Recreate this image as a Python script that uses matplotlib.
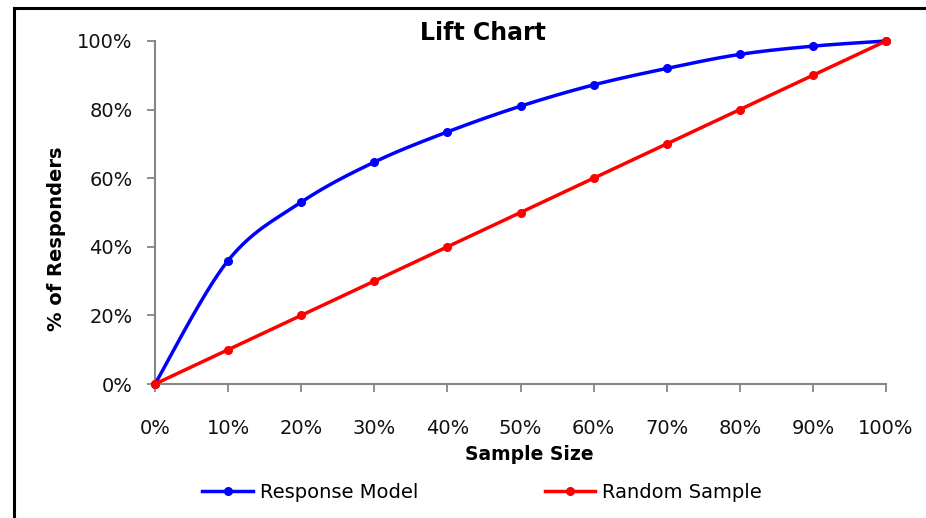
import numpy as np
import matplotlib
matplotlib.use("Agg")
import matplotlib.pyplot as plt
from matplotlib.lines import Line2D
from matplotlib.ticker import FuncFormatter

# Data
sample_pct = [0, 10, 20, 30, 40, 50, 60, 70, 80, 90, 100]
response_model = [0, 36, 53, 64.7, 73.5, 81, 87.2, 92, 96.1, 98.5, 100]
random_sample = [0, 10, 20, 30, 40, 50, 60, 70, 80, 90, 100]
y_ticks = [0, 20, 40, 60, 80, 100]

plt.rcParams['font.family'] = ['DejaVu Sans']

W, H = 926, 518


def smooth(xs, ys, n=30):
    """Catmull-Rom style smoothing through the points (like a spreadsheet smoothed line)."""
    xs = np.asarray(xs, float)
    ys = np.asarray(ys, float)
    px = np.concatenate([[xs[0]], xs, [xs[-1]]])
    py = np.concatenate([[ys[0]], ys, [ys[-1]]])
    outx, outy = [], []
    for i in range(1, len(px) - 2):
        p0, p1, p2, p3 = (np.array([px[j], py[j]]) for j in (i - 1, i, i + 1, i + 2))
        c1 = p1 + (p2 - p0) / 6.0
        c2 = p2 - (p3 - p1) / 6.0
        t = np.linspace(0, 1, n)[:, None]
        b = ((1 - t) ** 3) * p1 + 3 * ((1 - t) ** 2) * t * c1 + 3 * (1 - t) * t ** 2 * c2 + t ** 3 * p2
        outx.extend(b[:, 0])
        outy.extend(b[:, 1])
    return np.array(outx), np.array(outy)


fig = plt.figure(figsize=(W / 100, H / 100), dpi=100)
ax = fig.add_axes([155 / W, 1 - 384 / H, (886 - 155) / W, (384 - 41) / H])

blue = "#0000FF"
red = "#FF0000"

bx, by = smooth(sample_pct, response_model)
ax.plot(bx, by, color=blue, lw=2.5, solid_capstyle='round', zorder=3)
ax.plot(sample_pct, response_model, 'o', color=blue, ms=5.5, zorder=4)

rx, ry = smooth(sample_pct, random_sample)
ax.plot(rx, ry, color=red, lw=2.5, solid_capstyle='round', zorder=5)
ax.plot(sample_pct, random_sample, 'o', color=red, ms=5.5, zorder=6)

ax.set_xlim(0, 100)
ax.set_ylim(0, 100)
ax.set_xticks(sample_pct)
ax.set_yticks(y_ticks)
pct = FuncFormatter(lambda v, p: f"{v:.0f}%")
ax.xaxis.set_major_formatter(pct)
ax.yaxis.set_major_formatter(pct)

for s in ('top', 'right'):
    ax.spines[s].set_visible(False)
for s in ('left', 'bottom'):
    ax.spines[s].set_color('#868686')
    ax.spines[s].set_linewidth(1.5)
    ax.spines[s].set_zorder(1)
ax.tick_params(axis='both', direction='out', length=6, width=1.3, color='#868686',
               labelsize=14, labelcolor='#111111')
ax.tick_params(axis='x', pad=19)
ax.tick_params(axis='y', pad=10)
for sp in ax.spines.values():
    sp.set_clip_on(False)
for line in ax.get_lines():
    line.set_clip_on(False)

fig.text(483 / W, 1 - 33 / H, "Lift Chart", fontsize=17, fontweight='bold',
         ha='center', va='center')
fig.text(529 / W, 1 - 455 / H, "Sample Size", fontsize=13.5, fontweight='bold',
         ha='center', va='center')
fig.text(57 / W, 1 - 239 / H, "% of Responders", fontsize=14, fontweight='bold',
         ha='center', va='center', rotation=90)

legend_handles = [
    Line2D([], [], color=blue, lw=2.5, marker='o', ms=5.5),
    Line2D([], [], color=red, lw=2.5, marker='o', ms=5.5),
]
fig.legend(legend_handles, ["Response Model", "Random Sample"], loc='center',
           bbox_to_anchor=(482 / W, 1 - 492 / H), ncol=2, frameon=False,
           fontsize=14, handlelength=2.6, handletextpad=0.35, columnspacing=6.5)

# frame edges along the top and left of the figure
fig.add_artist(Line2D([14.5 / W, 14.5 / W], [0, 1 - 8 / H], color='black', lw=2.2,
                      transform=fig.transFigure))
fig.add_artist(Line2D([14.5 / W, 1], [1 - 8 / H, 1 - 8 / H], color='black', lw=2.2,
                      transform=fig.transFigure))

fig.savefig("out.png", dpi=100, facecolor='white')
